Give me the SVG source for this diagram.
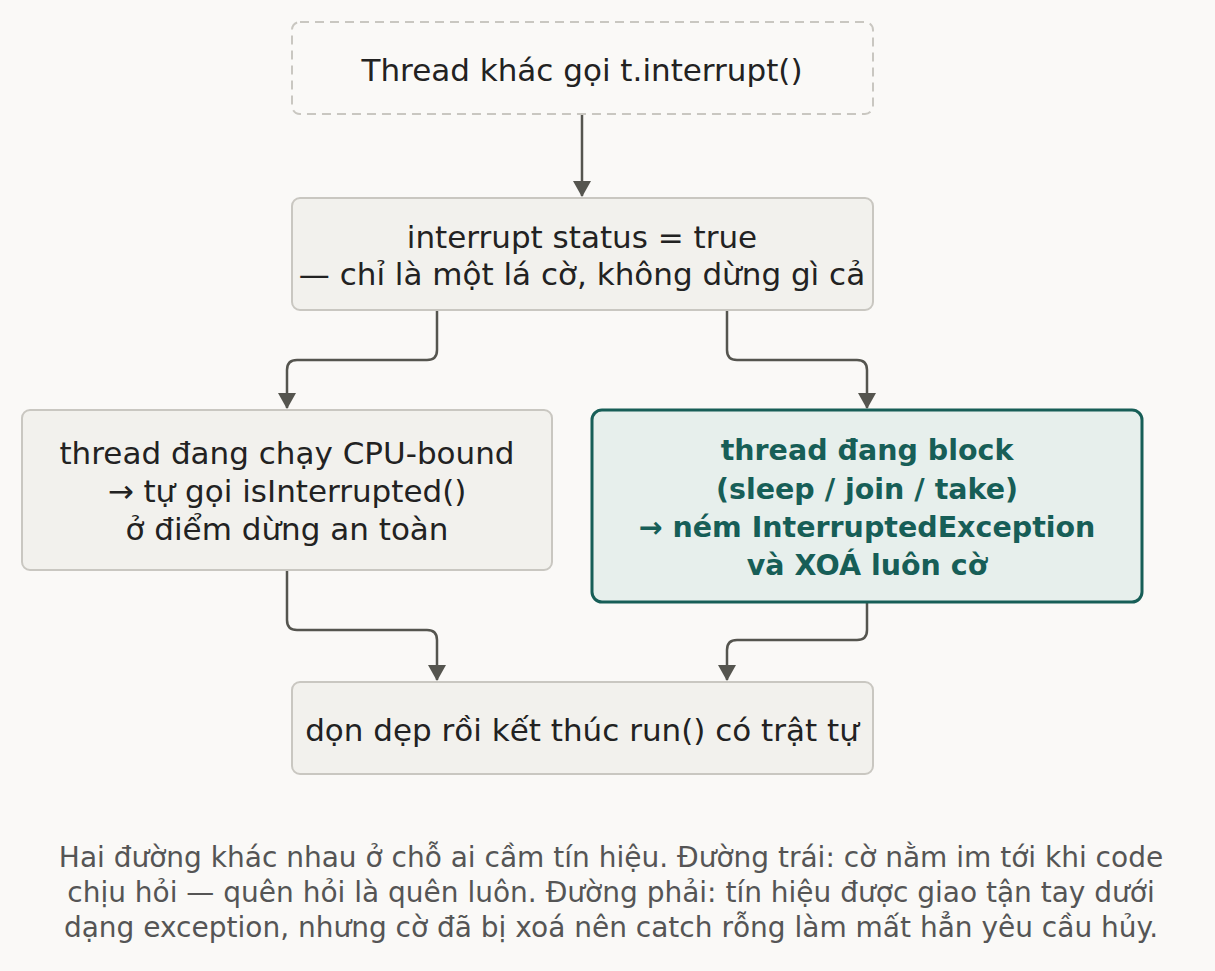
<svg xmlns="http://www.w3.org/2000/svg" width="1215" height="971" viewBox="0 0 1215 971">
<style>
.box{fill:#f2f1ed;stroke:#c9c7c1;stroke-width:2}
.dash{fill:#faf9f7;stroke:#c9c7c1;stroke-width:2;stroke-dasharray:9 6}
.hl{fill:#e7efec;stroke:#175e57;stroke-width:3}
.t{font-family:"DejaVu Sans","Noto Sans",sans-serif;font-size:31px;fill:#222;text-anchor:middle}
.b{font-weight:bold;fill:#175e57;font-size:28.5px}
.cap{font-family:"DejaVu Sans","Noto Sans",sans-serif;font-size:28px;fill:#555;text-anchor:middle}
.c{fill:none;stroke:#55554f;stroke-width:2.5}
</style>
<defs><marker id="a" markerWidth="16" markerHeight="18" refX="15" refY="9" orient="auto" markerUnits="userSpaceOnUse" viewBox="0 0 16 18"><path d="M0,0L16,9L0,18z" fill="#55554f"/></marker></defs>
<rect width="1215" height="971" fill="#faf9f7"/>
<g id="connectors">
<path class="c" d="M582,114V196" marker-end="url(#a)"/>
<path class="c" d="M437,310V350Q437,360 427,360H297Q287,360 287,370V408" marker-end="url(#a)"/>
<path class="c" d="M727,310V350Q727,360 737,360H857Q867,360 867,370V408" marker-end="url(#a)"/>
<path class="c" d="M287,570V620Q287,630 297,630H427Q437,630 437,640V680" marker-end="url(#a)"/>
<path class="c" d="M867,602V630Q867,640 857,640H737Q727,640 727,650V680" marker-end="url(#a)"/>
</g>
<g id="n1"><rect class="dash" x="292" y="22" width="581" height="92" rx="8"/><text class="t" x="582" y="81">Thread khác gọi t.interrupt()</text></g>
<g id="n2"><rect class="box" x="292" y="198" width="581" height="112" rx="8"/><text class="t" x="582" y="248">interrupt status = true</text><text class="t" x="582" y="285">— chỉ là một lá cờ, không dừng gì cả</text></g>
<g id="n3"><rect class="box" x="22" y="410" width="530" height="160" rx="8"/><text class="t" x="287" y="464">thread đang chạy CPU-bound</text><text class="t" x="287" y="502">→ tự gọi isInterrupted()</text><text class="t" x="287" y="540">ở điểm dừng an toàn</text></g>
<g id="n4"><rect class="hl" x="592" y="410" width="550" height="192" rx="10"/><text class="t b" x="867" y="460">thread đang block</text><text class="t b" x="867" y="499">(sleep / join / take)</text><text class="t b" x="867" y="537">→ ném InterruptedException</text><text class="t b" x="867" y="575">và XOÁ luôn cờ</text></g>
<g id="n5"><rect class="box" x="292" y="682" width="581" height="92" rx="8"/><text class="t" x="582" y="741">dọn dẹp rồi kết thúc run() có trật tự</text></g>
<g id="caption"><text class="cap" x="611" y="867">Hai đường khác nhau ở chỗ ai cầm tín hiệu. Đường trái: cờ nằm im tới khi code</text><text class="cap" x="611" y="902">chịu hỏi — quên hỏi là quên luôn. Đường phải: tín hiệu được giao tận tay dưới</text><text class="cap" x="611" y="937">dạng exception, nhưng cờ đã bị xoá nên catch rỗng làm mất hẳn yêu cầu hủy.</text></g>
</svg>
